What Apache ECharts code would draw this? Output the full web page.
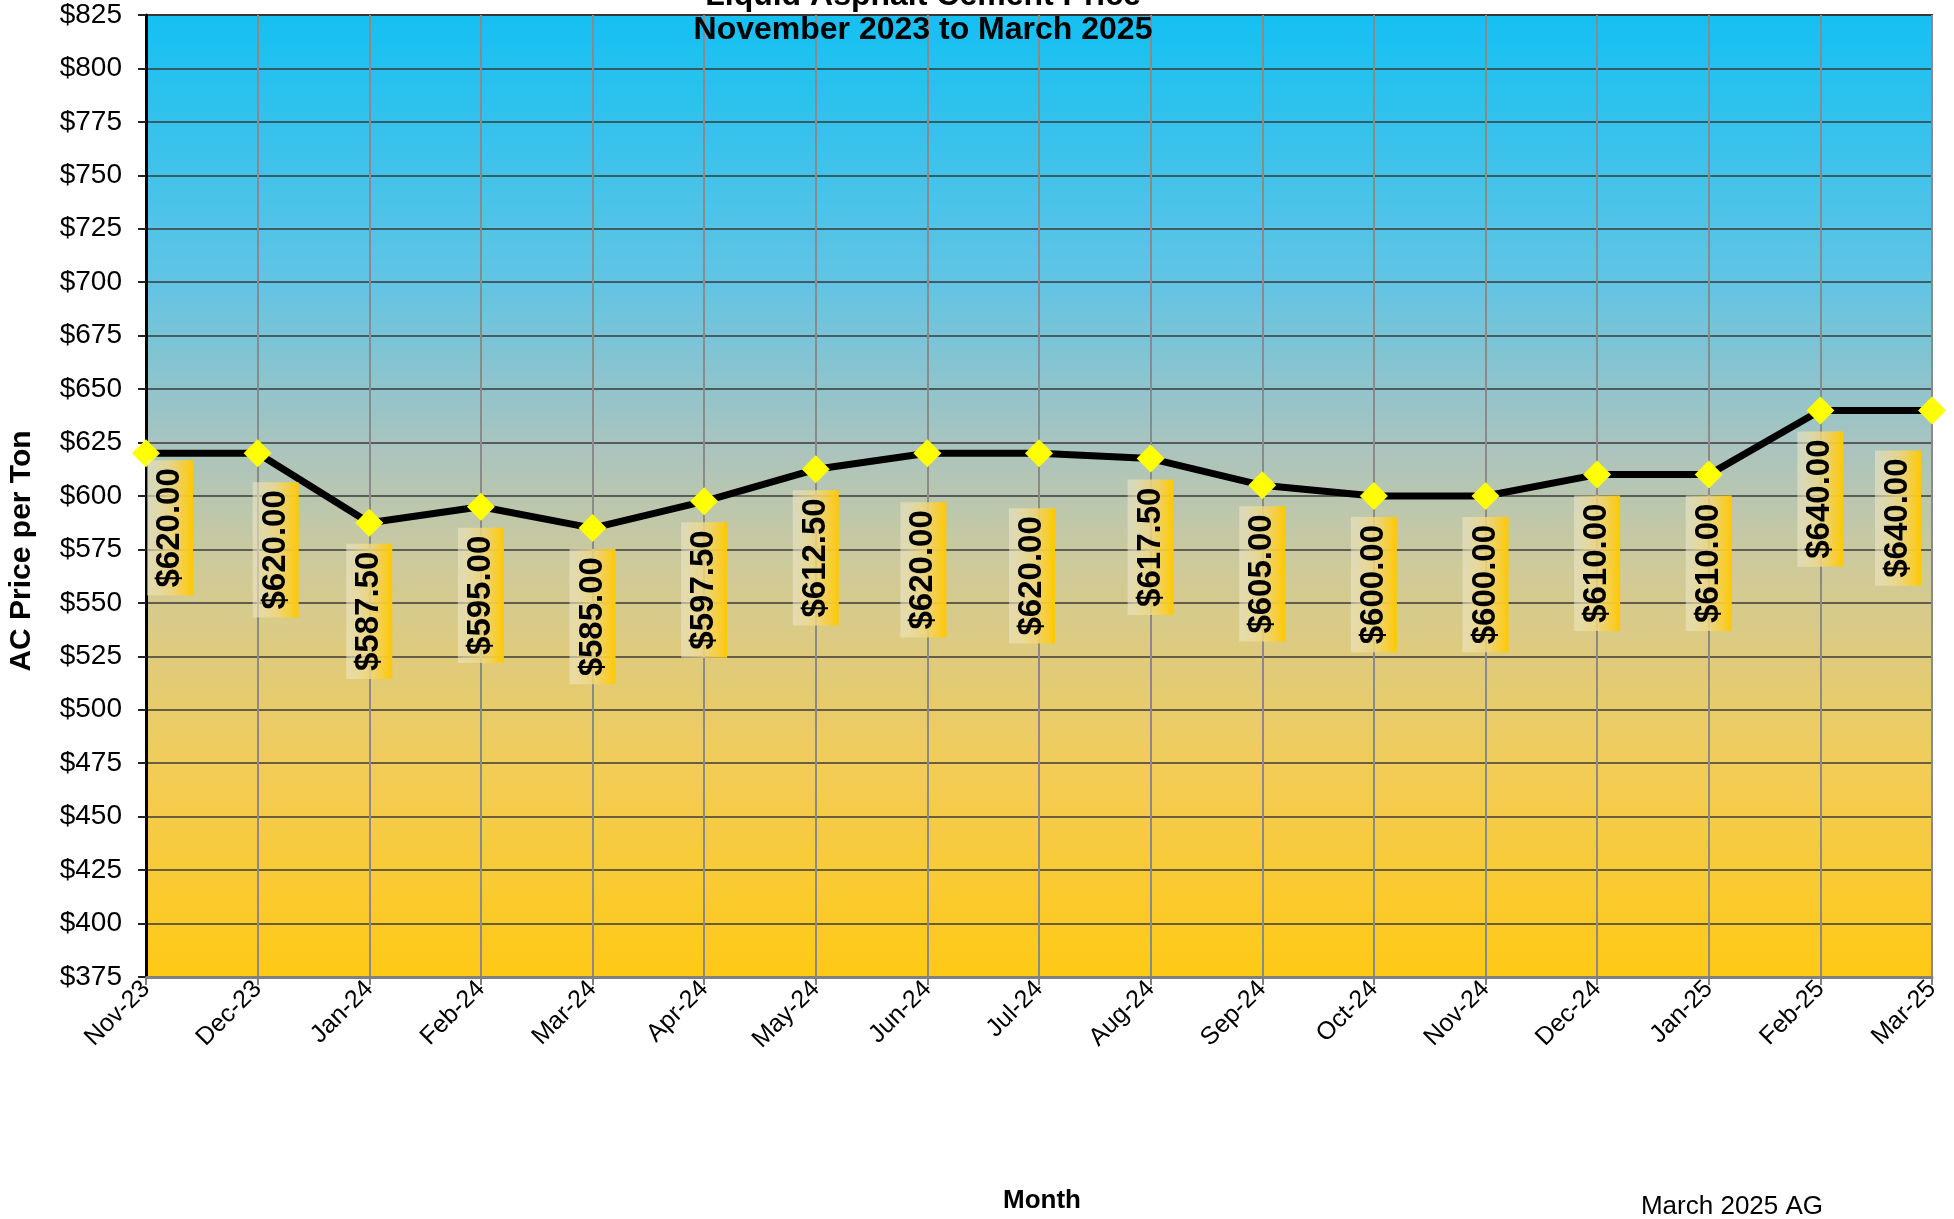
<!DOCTYPE html>
<html>
<head>
<meta charset="utf-8">
<title>Liquid Asphalt Cement Price</title>
<script src="https://cdn.jsdelivr.net/npm/echarts@6/dist/echarts.min.js"></script>
<style>
  html, body { margin: 0; padding: 0; background: #fff; }
  #chart { width: 1954px; height: 1219px; }
</style>
</head>
<body>
<div id="chart"></div>
<script>
var months = ["Nov-23", "Dec-23", "Jan-24", "Feb-24", "Mar-24", "Apr-24", "May-24", "Jun-24", "Jul-24",
  "Aug-24", "Sep-24", "Oct-24", "Nov-24", "Dec-24", "Jan-25", "Feb-25", "Mar-25"];
var acPrice = [620, 620, 587.5, 595, 585, 597.5, 612.5, 620, 620, 617.5, 605, 600, 600, 610, 610, 640, 640];
var yMin = 375, yMax = 825, yStep = 25;

var chart = echarts.init(document.getElementById("chart"));

// the source chart's labels are not all placed the same way; [right, down] nudges in px
var labelNudge = { 0: [24, -14], 1: [18, 8], 7: [-4, 28], 8: [-7, 34], 16: [-34, 19] };

var option = {
  animation: false,
  graphic: [
    {
      type: "text", x: 923, y: 13,
      style: {
        text: "Liquid Asphalt Cement Price\nNovember 2023 to March 2025",
        align: "center", verticalAlign: "middle", lineHeight: 34,
        font: "bold 32px 'Liberation Sans'", fill: "#000"
      },
      z: 100
    },
    {
      type: "text", x: 22, y: 551, rotation: Math.PI / 2,
      style: { text: "AC Price per Ton", align: "center", verticalAlign: "middle",
        font: "bold 30px 'Liberation Sans'", fill: "#000" }
    },
    {
      type: "text", x: 1042, y: 1201,
      style: { text: "Month", align: "center", verticalAlign: "middle",
        font: "bold 26px 'Liberation Sans'", fill: "#000" }
    },
    {
      type: "text", x: 1732, y: 1207,
      style: { text: "March 2025 AG", align: "center", verticalAlign: "middle",
        font: "26px 'Liberation Sans'", fill: "#000" }
    }
  ],
  grid: {
    left: 146, right: 22, top: 15, bottom: 242,
    outerBoundsMode: "none",
    show: true,
    borderColor: "#333", borderWidth: 2,
    backgroundColor: {
      type: "linear", x: 0, y: 0, x2: 0, y2: 1,
      colorStops: [
        { offset: 0, color: "#14c0f2" },
        { offset: 0.28, color: "#62c4e4" },
        { offset: 0.45, color: "#aac4be" },
        { offset: 0.58, color: "#d0ca98" },
        { offset: 0.78, color: "#f2cc58" },
        { offset: 1, color: "#ffc914" }
      ]
    }
  },
  xAxis: {
    type: "category",
    data: months,
    boundaryGap: false,
    axisLine: { lineStyle: { color: "#808080", width: 3 } },
    axisTick: { show: true, length: 8, lineStyle: { color: "#808080", width: 2 } },
    axisLabel: {
      rotate: 45, fontSize: 25, color: "#000", margin: 8,
      fontFamily: "Liberation Sans", interval: 0
    },
    splitLine: { show: true, lineStyle: { color: "#8a8a8a", width: 2 } }
  },
  yAxis: {
    type: "value",
    min: yMin, max: yMax, interval: yStep,
    axisLine: { show: true, lineStyle: { color: "#000", width: 3 } },
    axisTick: { show: true, length: 8, lineStyle: { color: "#222", width: 2 } },
    axisLabel: {
      fontSize: 28, color: "#000", margin: 24, fontFamily: "Liberation Sans",
      formatter: function (v) { return "$" + v; }
    },
    splitLine: { show: true, lineStyle: { color: "#3a3a3a", width: 1.5 } }
  },
  series: [
    {
      name: "AC Price",
      type: "line",
      data: acPrice,
      symbol: "diamond",
      symbolSize: 28,
      itemStyle: { color: "#ffff00" },
      lineStyle: { color: "#000", width: 7 },
      z: 5,
      label: {
        show: true,
        position: "bottom",
        distance: 7,
        rotate: 90,
        align: "right",
        verticalAlign: "middle",
        fontSize: 33,
        fontWeight: "bold",
        fontFamily: "Liberation Sans",
        color: "#000",
        lineHeight: 30,
        padding: [8, 8],
        backgroundColor: {
          type: "linear", x: 0, y: 0, x2: 0, y2: 1,
          colorStops: [
            { offset: 0, color: "rgba(238,232,205,0.55)" },
            { offset: 0.55, color: "rgba(240,214,120,0.85)" },
            { offset: 1, color: "rgba(255,200,0,1)" }
          ]
        },
        formatter: function (p) { return "$" + p.value.toFixed(2); }
      },
      // label is rotated 90deg, so dx moves it up and dy moves it right on screen
      labelLayout: function (params) {
        var n = labelNudge[params.dataIndex];
        if (!n) return {};
        return { dx: -n[1], dy: n[0] };
      }
    }
  ]
};

chart.setOption(option);
window.addEventListener("resize", function () {
  chart.resize();
});
</script>
</body>
</html>
